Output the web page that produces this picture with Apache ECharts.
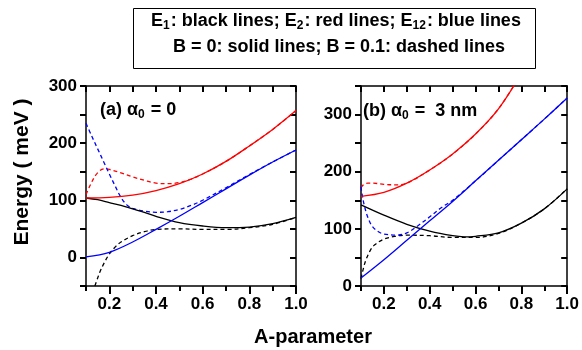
<!DOCTYPE html>
<html><head><meta charset="utf-8">
<script src="https://cdn.jsdelivr.net/npm/echarts@6/dist/echarts.min.js"></script>
<style>html,body{margin:0;padding:0;background:#fff}#c{width:582px;height:350px}</style>
</head><body><div id="c"></div>
<script>
// ---------- Panel (a): alpha0 = 0 ----------
const aBlackSolidX = [0.1,0.15,0.2,0.25,0.3,0.35,0.4,0.5,0.6,0.7,0.8,0.9,1.0];
const aBlackSolidY = [104,101,96,91,85,79,72,61,55,52,53,59,70];
const aBlackDashX = [0.138,0.15,0.16,0.18,0.2,0.22,0.25,0.3,0.35,0.4,0.5,0.6,0.7,0.8,0.9,1.0];
const aBlackDashY = [-50,-36,-25,-8,6,16,27,38,45,49,50,49,49,52,58,70];
const aRedSolidX = [0.1,0.2,0.3,0.4,0.5,0.6,0.7,0.8,0.9,1.0];
const aRedSolidY = [104,105,109,117,129,146,168,195,224,257];
const aRedDashX = [0.1,0.12,0.14,0.16,0.18,0.2,0.25,0.3,0.35,0.4,0.45,0.5,0.55,0.6,0.7,0.8,0.9,1.0];
const aRedDashY = [110,128,143,152,155,154,148,141,135,130,129,131,137,146,168,195,224,257];
const aBlueSolidX = [0.1,0.2,0.3,0.4,0.5,0.6,0.7,0.8,0.9,1.0];
const aBlueSolidY = [1,9,27,49,72,96,120,144,167,188];
const aBlueDashX = [0.1,0.125,0.15,0.175,0.2,0.225,0.25,0.275,0.3,0.35,0.4,0.45,0.5,0.55,0.6,0.7,0.8,0.9,1.0];
const aBlueDashY = [235,212,190,168,146,125,105,92,86,81,79,80,84,91,100,122,145,167,188];

// ---------- Panel (b): alpha0 = 3 nm ----------
const bBlackSolidX = [0.1,0.2,0.3,0.4,0.5,0.55,0.6,0.7,0.8,0.9,1.0];
const bBlackSolidY = [142,124,108,96,88,86,87,93,110,135,170];
const bBlackDashX = [0.1,0.11,0.12,0.14,0.16,0.2,0.25,0.3,0.4,0.5,0.6,0.7,0.8,0.9,1.0];
const bBlackDashY = [13,30,44,62,72,82,87,89,88,85,85,92,110,135,170];
const bRedSolidX = [0.1,0.2,0.3,0.4,0.5,0.6,0.7,0.8];
const bRedSolidY = [157,164,180,203,231,266,310,372];
const bRedDashX = [0.1,0.11,0.13,0.15,0.2,0.25,0.3,0.4,0.5,0.6,0.7,0.8];
const bRedDashY = [172,177,180,180,178,177,180,203,231,266,310,372];
const bBlueSolidX = [0.1,0.2,0.3,0.4,0.5,0.6,0.7,0.8,0.9,1.0];
const bBlueSolidY = [14,46,80,114,148,184,220,256,292,329];
const bBlueDashX = [0.1,0.105,0.115,0.13,0.15,0.18,0.2,0.25,0.3,0.35,0.4,0.45,0.5,0.6,0.7,0.8,0.9,1.0];
const bBlueDashY = [174,160,140,120,104,94,91,89,93,106,121,137,150,184,220,256,292,329];

// ---------- Ticks ----------
const xMajorTicks = [0.2,0.4,0.6,0.8,1.0];
const xMinorTicks = [0.1,0.3,0.5,0.7,0.9];
const yLabelsA = [0,100,200,300];
const yLabelsB = [0,100,200,300];

const FONT = 'Liberation Sans, Arial, Helvetica, sans-serif';
const zip = (xs, ys) => xs.map((x, i) => [x, ys[i]]);

function xAxes(grid) {
  const base = {type:'value', gridIndex:grid, min:0.1, max:1.0, splitLine:{show:false}};
  return [
    Object.assign({}, base, {position:'bottom',
      axisLine:{show:true, onZero:false, lineStyle:{color:'#000', width:1.5}},
      axisTick:{show:true, inside:false, length:8, customValues:xMajorTicks, lineStyle:{color:'#000', width:2}},
      axisLabel:{show:true, customValues:xMajorTicks, margin:10, color:'#000', fontFamily:FONT, fontWeight:'bold', fontSize:17,
        formatter:v => Number(v).toFixed(1)}}),
    Object.assign({}, base, {position:'bottom',
      axisLine:{show:false, onZero:false},
      axisTick:{show:true, inside:false, length:5, customValues:xMinorTicks, lineStyle:{color:'#000', width:2}},
      axisLabel:{show:false}}),
    Object.assign({}, base, {position:'top', interval:0.1,
      axisLine:{show:true, onZero:false, lineStyle:{color:'#000', width:1.5}},
      axisTick:{show:true, inside:true, length:6, lineStyle:{color:'#000', width:2}},
      axisLabel:{show:false}})
  ];
}
function yAxes(grid, min, max, labels) {
  const base = {type:'value', gridIndex:grid, min:min, max:max, interval:50, splitLine:{show:false}};
  return [
    Object.assign({}, base, {position:'left',
      axisLine:{show:true, onZero:false, lineStyle:{color:'#000', width:1.5}},
      axisTick:{show:true, inside:false, length:6, lineStyle:{color:'#000', width:2}},
      axisLabel:{show:true, customValues:labels, margin:9, color:'#000', fontFamily:FONT, fontWeight:'bold', fontSize:17}}),
    Object.assign({}, base, {position:'right',
      axisLine:{show:true, onZero:false, lineStyle:{color:'#000', width:1.5}},
      axisTick:{show:true, inside:true, length:6, lineStyle:{color:'#000', width:2}},
      axisLabel:{show:false}})
  ];
}

function line(data, color, dashed, xi, yi) {
  return {type:'line', data:data, xAxisIndex:xi, yAxisIndex:yi, showSymbol:false, symbol:'none',
    smooth:0.35, clip:true, silent:true, animation:false,
    lineStyle:{color:color, width:1.3, type: dashed ? [4,3] : 'solid'}};
}

const BLACK = '#000000', RED = '#ff0000', BLUE = '#0000ff';

const series = [
  line(zip(aBlackDashX, aBlackDashY), BLACK, true, 0, 0),
  line(zip(aRedDashX, aRedDashY), RED, true, 0, 0),
  line(zip(aBlueDashX, aBlueDashY), BLUE, true, 0, 0),
  line(zip(aBlackSolidX, aBlackSolidY), BLACK, false, 0, 0),
  line(zip(aRedSolidX, aRedSolidY), RED, false, 0, 0),
  line(zip(aBlueSolidX, aBlueSolidY), BLUE, false, 0, 0),
  line(zip(bBlackDashX, bBlackDashY), BLACK, true, 3, 2),
  line(zip(bRedDashX, bRedDashY), RED, true, 3, 2),
  line(zip(bBlueDashX, bBlueDashY), BLUE, true, 3, 2),
  line(zip(bBlackSolidX, bBlackSolidY), BLACK, false, 3, 2),
  line(zip(bRedSolidX, bRedSolidY), RED, false, 3, 2),
  line(zip(bBlueSolidX, bBlueSolidY), BLUE, false, 3, 2)
];

const bold18 = {fontFamily:FONT, fontWeight:'bold', fontSize:18, lineHeight:22, fill:'#000'};
const sub = {fontFamily:FONT, fontWeight:'bold', fontSize:12, lineHeight:11, verticalAlign:'bottom', fill:'#000', padding:[0,1,0,0]};

const option = {
  backgroundColor:'#fff',
  animation:false,
  grid:[
    {left:86, top:86, width:210, height:200},
    {left:361, top:86, width:208, height:200}
  ],
  xAxis: xAxes(0).concat(xAxes(1)),
  yAxis: yAxes(0, -50, 300, yLabelsA).concat(yAxes(1, 0, 350, yLabelsB)),
  series: series,
  graphic:[
    {type:'rect', shape:{x:133.5, y:8.5, width:402, height:60}, style:{fill:'#fff', stroke:'#000', lineWidth:1}, z:10},
    {type:'text', x:336, y:21, z:11, style:{text:'{b|E}{s|1}{b|: black lines; E}{s|2}{b|: red lines; E}{s|12}{b|: blue lines}',
      rich:{b:bold18, s:sub}, align:'center', verticalAlign:'middle'}},
    {type:'text', x:339, y:47, z:11, style:{text:'B = 0: solid lines; B = 0.1: dashed lines',
      font:'bold 18px ' + FONT, fill:'#000', align:'center', verticalAlign:'middle'}},
    {type:'text', x:100, y:110, z:11, style:{text:'{b|(a) α}{s|0}{b| = 0}', rich:{b:bold18, s:sub}, align:'left', verticalAlign:'middle'}},
    {type:'text', x:363, y:111, z:11, style:{text:'{b|(b) α}{s|0}{b| =  3 nm}', rich:{b:bold18, s:sub}, align:'left', verticalAlign:'middle'}},
    {type:'text', x:313, y:337, z:11, style:{text:'A-parameter', font:'bold 20px ' + FONT, fill:'#000', align:'center', verticalAlign:'middle'}},
    {type:'text', x:22, y:172, rotation:Math.PI/2, z:11, style:{text:'Energy ( meV )', font:'bold 21px ' + FONT, fill:'#000', align:'center', verticalAlign:'middle'}}
  ]
};

const chart = echarts.init(document.getElementById('c'), null, {renderer:'canvas'});
chart.setOption(option);
</script>
</body></html>
